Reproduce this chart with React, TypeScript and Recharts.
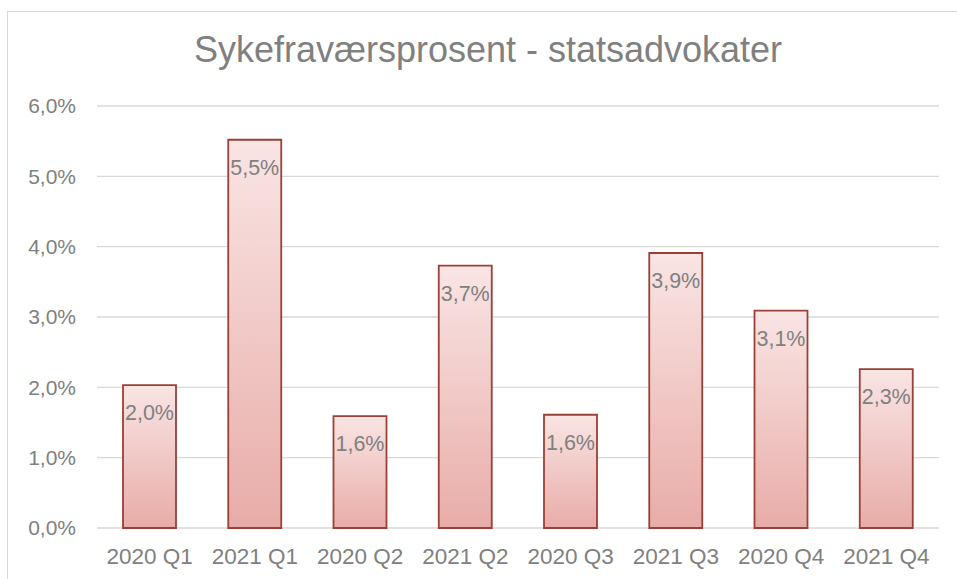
import React from 'react'
import {
  BarChart,
  Bar,
  XAxis,
  YAxis,
  CartesianGrid,
  LabelList,
} from 'recharts'

const quarters = [
  '2020 Q1',
  '2021 Q1',
  '2020 Q2',
  '2021 Q2',
  '2020 Q3',
  '2021 Q3',
  '2020 Q4',
  '2021 Q4',
]
const sickLeave = [2.03, 5.52, 1.59, 3.73, 1.61, 3.91, 3.09, 2.26]
const yTicks = [0, 1, 2, 3, 4, 5, 6]

const data = quarters.map((q, i) => ({ quarter: q, value: sickLeave[i] }))

const pct = (v: number) => v.toFixed(1).replace('.', ',') + '%'

const grey = '#808080'
const font = 'Arial, "Liberation Sans", sans-serif'

export default function App() {
  return (
    <div
      style={{
        position: 'absolute',
        left: 0,
        top: 0,
        width: 957,
        height: 579,
        overflow: 'hidden',
        background: '#fff',
        fontFamily: font,
      }}
    >
      {/* chart frame */}
      <div
        style={{
          position: 'absolute',
          left: 7,
          top: 11,
          width: 1100,
          height: 700,
          borderLeft: '1px solid #d9d9d9',
          borderTop: '1px solid #d9d9d9',
        }}
      />
      <div
        style={{
          position: 'absolute',
          left: 0,
          top: 32,
          width: 976,
          textAlign: 'center',
          fontSize: 36,
          lineHeight: '36px',
          color: grey,
        }}
      >
        Sykefraværsprosent - statsadvokater
      </div>
      <div style={{ position: 'absolute', left: 0, top: 0 }}>
        <BarChart
          width={957}
          height={579}
          data={data}
          margin={{ top: 106, right: 18, bottom: 0, left: 0 }}
          barSize={53}
        >
          <defs>
            <linearGradient id="barFill" x1="0" y1="0" x2="0" y2="1">
              <stop offset="0%" stopColor="#f9e5e4" />
              <stop offset="100%" stopColor="#e8aca8" />
            </linearGradient>
          </defs>
          <CartesianGrid vertical={false} stroke="#d9d9d9" strokeWidth={1.3} />
          <XAxis
            dataKey="quarter"
            height={51}
            axisLine={false}
            tickLine={false}
            tickMargin={14}
            interval={0}
            tick={{ fill: grey, fontSize: 22.5, fontFamily: font }}
          />
          <YAxis
            width={97}
            domain={[0, 6]}
            ticks={yTicks}
            tickFormatter={pct}
            axisLine={false}
            tickLine={false}
            tickMargin={15}
            tick={{ fill: grey, fontSize: 21, fontFamily: font }}
          />
          <Bar
            dataKey="value"
            fill="url(#barFill)"
            stroke="#9b4036"
            strokeWidth={1.8}
            isAnimationActive={false}
          >
            <LabelList
              dataKey="value"
              position="insideTop"
              offset={20}
              formatter={(v: any) => pct(Number(v))}
              fill={grey}
              fontSize={21.5}
              fontFamily={font}
            />
          </Bar>
        </BarChart>
      </div>
    </div>
  )
}
